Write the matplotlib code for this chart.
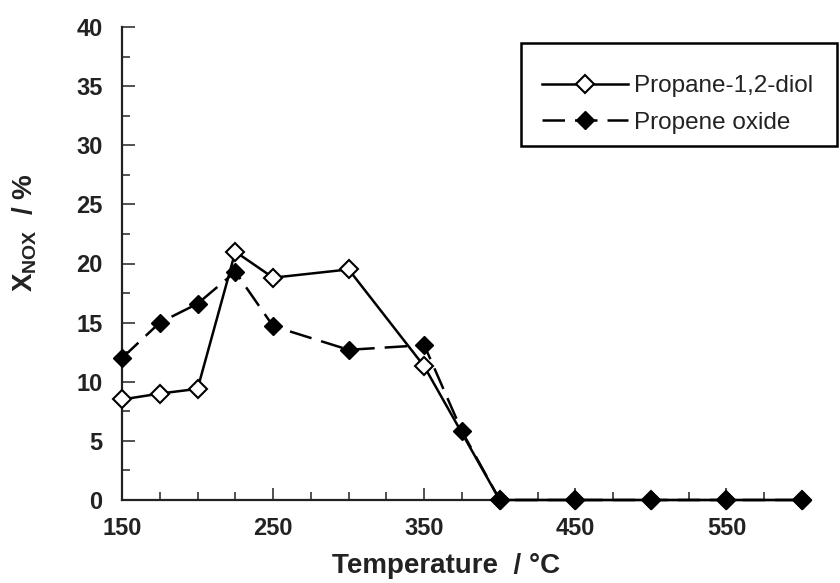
import matplotlib
matplotlib.use("Agg")
import matplotlib.pyplot as plt
from matplotlib.ticker import MultipleLocator, FixedLocator
from matplotlib.patches import Rectangle

plt.rcParams['font.family'] = ['Liberation Sans', 'DejaVu Sans']
plt.rcParams['mathtext.fontset'] = 'custom'
plt.rcParams['mathtext.rm'] = 'Liberation Sans:bold'
plt.rcParams['mathtext.bf'] = 'Liberation Sans:bold'
plt.rcParams['mathtext.it'] = 'Liberation Sans:bold'

# Data
temperature_diol = [150, 175, 200, 225, 250, 300, 350, 400, 450, 500, 550, 600]
conversion_diol = [8.5, 9.0, 9.4, 21.0, 18.8, 19.5, 11.3, 0, 0, 0, 0, 0]
temperature_oxide = [150, 175, 200, 225, 250, 300, 350, 375, 400, 450, 500, 550, 600]
conversion_oxide = [12.0, 15.0, 16.6, 19.3, 14.7, 12.7, 13.1, 5.8, 0, 0, 0, 0, 0]
series_labels = ["Propane-1,2-diol", "Propene oxide"]
x_tick_values = [150, 250, 350, 450, 550]
y_tick_values = [0, 5, 10, 15, 20, 25, 30, 35, 40]

W, H = 840, 583
fig = plt.figure(figsize=(8.4, 5.83), dpi=100)
ax = fig.add_axes([122/W, 1-500/H, 680/W, 473/H])

ax.plot(temperature_diol, conversion_diol, color='black', lw=1.8, ls='-',
        marker='D', ms=9, mfc='white', mec='black', mew=1.5,
        label=series_labels[0], zorder=3, clip_on=False)
ax.plot(temperature_oxide, conversion_oxide, color='black', lw=1.8,
        ls=(0, (9, 4)), marker='D', ms=9, mfc='black', mec='black',
        label=series_labels[1], zorder=4, clip_on=False)

ax.set_xlim(150, 600)
ax.set_ylim(0, 40)
for s in ['top', 'right']:
    ax.spines[s].set_visible(False)
for s in ['left', 'bottom']:
    ax.spines[s].set_linewidth(1.6)
    ax.spines[s].set_color('#222222')

ax.xaxis.set_major_locator(FixedLocator(x_tick_values))
ax.yaxis.set_major_locator(FixedLocator(y_tick_values))
ax.yaxis.set_minor_locator(MultipleLocator(2.5))
ax.set_xticks([175, 200, 225, 275, 300, 325, 375, 400, 425, 475, 500, 525, 575, 600], minor=True)
ax.tick_params(which='both', direction='in', color='#333333', width=1.2)
ax.tick_params(which='major', length=9)
ax.tick_params(which='minor', length=5.5)
ax.tick_params(axis='x', which='major', pad=12)
ax.tick_params(axis='y', which='major', pad=14)
for lab in ax.get_xticklabels() + ax.get_yticklabels():
    lab.set_fontsize(17)
    lab.set_fontweight('bold')
    lab.set_color('#222222')

fig.text(446/W, 1-566/H, "Temperature  / \u00b0C", fontsize=20, fontweight='bold',
         ha='center', va='center', color='#222222')
fig.text(25/W, 1-233/H, r"$\mathbf{X}_{\mathbf{NOX}}$  / %", fontsize=20,
         fontweight='bold', rotation=90, ha='center', va='center', color='#222222')

# legend box
fig.patches.append(Rectangle((521/W, 1-146/H), 316/W, 103/H, transform=fig.transFigure,
                             facecolor='white', edgecolor='black', lw=1.8, zorder=5))
leg = fig.legend(loc='upper left', bbox_to_anchor=(513/W, 1-46/H),
                 fontsize=17.5, frameon=False,
                 handlelength=3.55, handletextpad=0.22, borderpad=1.2,
                 labelspacing=0.6, borderaxespad=0)
leg.set_zorder(6)
for t in leg.get_texts():
    t.set_color('#222222')

fig.savefig("out.png", dpi=100)
